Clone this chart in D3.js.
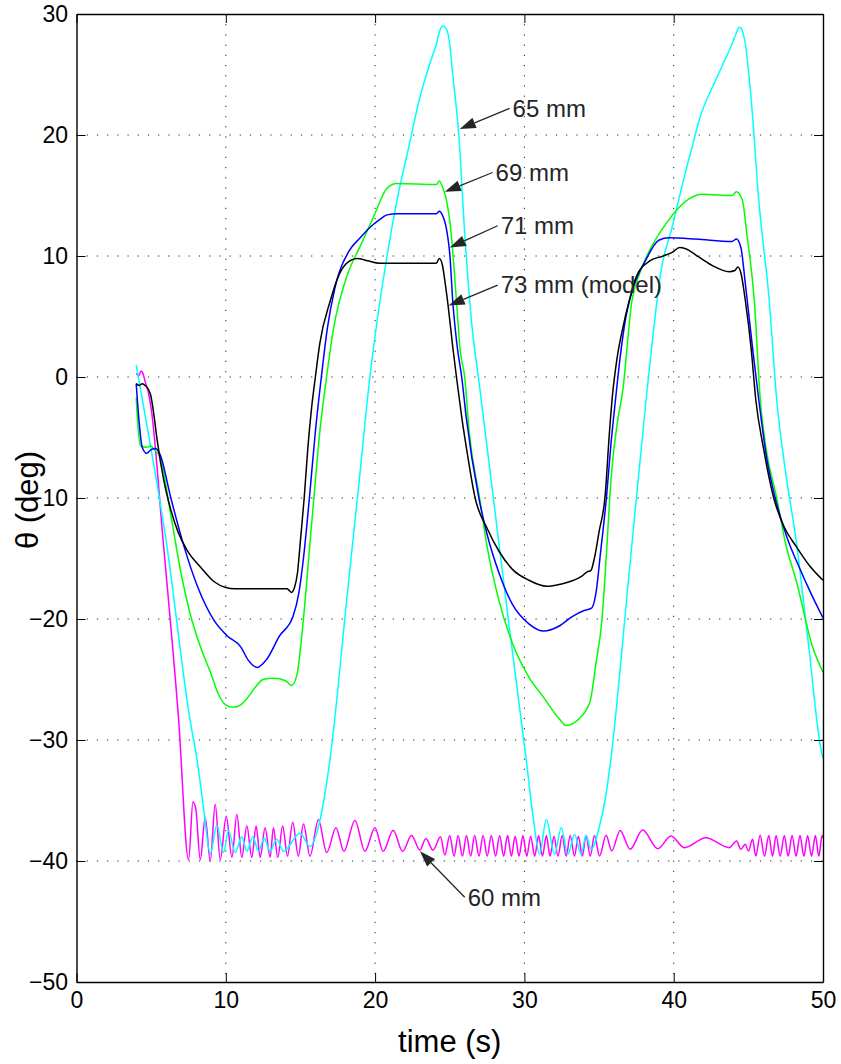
<!DOCTYPE html>
<html>
<head>
<meta charset="utf-8">
<script src="https://cdn.jsdelivr.net/npm/d3@7"></script>
<style>
  body { margin: 0; background: #fff; }
  text { font-family: "Liberation Sans", Arial, Helvetica, sans-serif; }
</style>
</head>
<body>
<svg id="chart"></svg>
<script>
const width = 841, height = 1064;
const marginLeft = 76.5, marginRight = 18, marginTop = 14, marginBottom = 82;

const xTicks = [0, 10, 20, 30, 40, 50];
const yTicks = [-50, -40, -30, -20, -10, 0, 10, 20, 30];

// [time (s), theta (deg)]
const model73 = [[4.0,-0.55],[4.2,-0.7],[4.4,-0.55],[4.6,-0.7],[4.95,-1.4],[5.17,-3.0],[5.4,-5.2],[5.84,-8.5],[6.3,-10.9],[6.8,-12.8],[7.4,-14.3],[8.3,-15.7],[9.2,-16.9],[10.0,-17.4],[10.6,-17.5],[14.1,-17.5],[14.4,-17.8],[14.6,-17.4],[14.8,-16.2],[15.0,-13.5],[15.25,-10.0],[15.5,-5.8],[15.75,-2.5],[16.0,0.0],[16.3,2.8],[17.0,6.3],[17.6,8.5],[18.3,9.6],[18.8,9.8],[19.5,9.6],[20.3,9.4],[24.1,9.4],[24.3,9.8],[24.5,9.3],[24.7,7.7],[24.9,5.8],[25.2,2.5],[25.45,0.0],[25.8,-3.3],[26.2,-6.5],[26.7,-10.0],[27.5,-12.5],[28.3,-14.4],[29.2,-15.9],[30.3,-16.8],[31.5,-17.3],[32.5,-17.1],[33.3,-16.8],[33.8,-16.5],[34.2,-16.1],[34.45,-16.0],[34.7,-14.9],[35.0,-12.8],[35.4,-9.9],[35.7,-4.5],[35.9,-1.5],[36.2,1.5],[36.6,4.1],[37.0,6.2],[37.5,8.3],[38.4,9.6],[39.3,10.0],[39.9,10.3],[40.4,10.7],[40.8,10.6],[41.7,9.9],[42.6,9.2],[43.7,8.7],[44.1,8.8],[44.3,9.1],[44.5,8.6],[44.8,6.3],[45.2,2.2],[45.5,-1.9],[46.0,-5.8],[46.7,-10.0],[47.4,-12.4],[48.2,-14.0],[49.1,-15.6],[50.0,-16.8]];

const mm71 = [[4.0,-0.55],[4.2,-3.8],[4.4,-5.8],[4.7,-6.3],[5.0,-6.0],[5.3,-5.9],[5.6,-6.4],[6.3,-9.9],[7.2,-14.0],[8.1,-17.3],[9.2,-20.1],[10.1,-21.4],[11.0,-22.3],[11.5,-23.4],[12.1,-24.0],[12.7,-23.4],[13.6,-21.4],[14.5,-19.8],[14.9,-17.8],[15.2,-15.0],[15.6,-10.0],[16.0,-4.5],[16.4,0.0],[16.8,4.0],[17.3,7.3],[18.3,10.5],[19.0,11.5],[19.6,12.3],[20.3,13.0],[20.8,13.4],[21.5,13.5],[24.1,13.5],[24.3,13.7],[24.5,13.4],[24.8,12.1],[25.0,10.2],[25.2,6.3],[25.5,2.5],[25.8,0.0],[26.1,-3.3],[26.95,-10.0],[27.5,-13.0],[28.3,-16.2],[29.2,-18.8],[30.3,-20.4],[31.3,-21.0],[32.3,-20.6],[33.2,-19.8],[34.0,-19.3],[34.5,-19.1],[34.8,-17.8],[35.1,-14.5],[35.5,-9.9],[35.8,-5.5],[36.1,-1.9],[36.4,1.5],[36.8,5.0],[37.4,7.8],[38.1,9.6],[39.0,11.3],[39.7,11.5],[41.5,11.4],[43.9,11.2],[44.2,11.4],[44.5,10.7],[44.8,7.7],[45.3,2.2],[45.7,-1.9],[46.2,-6.5],[46.8,-10.0],[47.6,-13.3],[48.4,-15.7],[49.2,-17.9],[50.0,-19.9]];

const mm69 = [[4.0,-1.7],[4.1,-3.8],[4.3,-5.7],[4.7,-5.8],[5.0,-5.7],[5.2,-6.0],[5.6,-6.6],[6.3,-11.3],[7.0,-16.2],[7.6,-19.5],[8.3,-22.3],[9.0,-24.5],[9.5,-26.2],[10.0,-27.1],[10.5,-27.3],[11.0,-27.1],[11.4,-26.6],[12.0,-25.6],[12.5,-25.0],[13.2,-24.9],[14.0,-25.1],[14.4,-25.5],[14.75,-24.7],[15.2,-20.0],[15.55,-15.0],[15.9,-10.0],[16.3,-4.5],[16.75,0.0],[17.2,3.9],[18.1,8.3],[19.0,10.8],[19.9,13.25],[20.8,15.6],[21.45,16.0],[24.1,15.9],[24.3,16.2],[24.6,15.4],[24.8,14.5],[25.1,11.8],[25.45,6.3],[25.7,2.2],[26.0,0.0],[26.3,-4.5],[27.0,-10.0],[27.5,-14.0],[28.3,-18.5],[29.2,-22.0],[30.3,-24.8],[31.3,-26.5],[32.3,-28.2],[32.8,-28.8],[33.3,-28.6],[33.7,-28.2],[34.4,-26.8],[34.8,-23.6],[35.2,-20.0],[35.5,-14.5],[35.8,-8.5],[36.2,-4.0],[36.6,-1.0],[37.2,6.3],[37.7,8.5],[38.4,10.5],[39.5,12.7],[41.0,14.7],[41.9,15.1],[43.9,15.0],[44.2,15.3],[44.6,14.6],[44.9,11.8],[45.4,6.3],[45.8,-1.9],[46.2,-6.0],[46.9,-10.0],[47.5,-13.8],[48.2,-16.8],[49.3,-22.3],[50.0,-24.4]];

const mm65 = [[4.0,1.0],[4.1,0.3],[4.5,-2.5],[5.2,-7.4],[6.0,-13.5],[7.6,-28.3],[8.07,-31.6],[8.5,-35.5],[8.96,-39.4],[9.4,-37.05],[9.85,-39.3],[10.18,-37.5],[10.63,-39.3],[11.07,-38.0],[11.41,-39.2],[11.81,-38.0],[12.19,-39.2],[12.57,-38.1],[12.97,-39.2],[13.41,-38.2],[13.86,-39.2],[14.97,-37.7],[15.64,-38.8],[16.31,-36.6],[16.98,-31.6],[18.1,-18.4],[18.9,-9.0],[19.65,0.0],[20.8,10.0],[21.5,14.8],[22.2,18.7],[23.0,23.1],[23.8,26.4],[24.1,27.5],[24.3,28.5],[24.55,29.0],[24.8,28.7],[25.0,27.5],[25.2,25.0],[25.6,20.1],[26.0,11.9],[26.45,4.7],[27.0,-0.8],[28.0,-10.8],[29.0,-20.8],[30.12,-31.6],[30.6,-36.5],[31.02,-39.45],[31.47,-36.56],[32.02,-39.45],[32.47,-37.25],[32.91,-39.45],[33.36,-37.8],[33.8,-39.45],[34.13,-37.88],[34.47,-39.03],[35.03,-37.11],[35.4,-35.0],[35.75,-32.0],[36.97,-16.8],[38.15,-1.9],[39.2,9.1],[39.9,12.4],[40.6,16.0],[41.4,19.8],[41.7,21.2],[42.8,24.5],[43.5,26.4],[43.9,27.5],[44.15,28.3],[44.4,28.9],[44.6,28.6],[44.8,27.5],[45.2,22.8],[45.7,14.6],[46.4,6.3],[46.9,-1.9],[47.5,-7.9],[48.2,-13.5],[49.0,-21.8],[49.9,-31.0],[50.0,-31.5]];

const mm60 = [[4.0,0.3],[4.17,0.1],[4.32,0.5],[4.45,0.3],[4.6,-0.4],[4.8,-1.2],[5.0,-2.6],[5.8,-13.5],[6.84,-28.3],[7.51,-39.9],[7.8,-35.1],[7.99,-35.7],[8.29,-39.9],[8.62,-36.4],[8.96,-40.0],[9.29,-35.3],[9.63,-39.9],[10.03,-36.3],[10.41,-39.7],[10.74,-36.15],[11.07,-39.7],[11.41,-37.1],[11.74,-39.7],[12.03,-37.1],[12.3,-39.7],[12.63,-37.25],[12.97,-39.7],[13.19,-37.25],[13.48,-39.7],[13.81,-37.1],[14.13,-39.6],[14.48,-36.8],[14.86,-39.6],[15.2,-36.95],[15.64,-39.6],[16.2,-36.6],[16.76,-39.3],[17.38,-37.25],[17.91,-39.2],[18.65,-36.65],[19.32,-39.2],[19.99,-37.25],[20.54,-39.2],[21.21,-37.45],[21.84,-39.2],[22.44,-37.9],[23.0,-39.1],[23.4,-38.15],[23.88,-39.1],[24.38,-38.0],[24.67,-39.5],[25.0,-37.9],[25.29,-39.6],[25.56,-37.9],[25.85,-39.6],[26.12,-37.9],[26.4,-39.6],[26.67,-37.9],[26.96,-39.6],[27.23,-37.9],[27.51,-39.6],[27.78,-37.9],[28.07,-39.6],[28.34,-37.9],[28.61,-39.6],[28.87,-37.9],[29.13,-39.6],[29.38,-37.95],[29.64,-39.6],[29.9,-37.9],[30.16,-39.6],[30.42,-37.95],[30.69,-39.6],[30.95,-37.9],[31.21,-39.6],[31.47,-37.9],[31.72,-39.6],[31.98,-37.95],[32.25,-39.6],[32.53,-37.9],[32.8,-39.6],[33.07,-37.9],[33.35,-39.6],[33.62,-37.95],[33.88,-39.6],[34.13,-37.9],[34.41,-39.6],[34.69,-37.9],[35.03,-39.58],[35.47,-37.88],[35.85,-39.17],[36.41,-37.47],[37.08,-39.03],[37.92,-37.44],[38.93,-38.98],[39.82,-37.93],[40.71,-38.9],[42.16,-38.07],[43.72,-38.9],[44.21,-38.35],[44.5,-39.03],[44.79,-38.62],[45.01,-39.17],[45.28,-38.21],[45.5,-39.58],[45.79,-37.88],[46.08,-39.6],[46.37,-37.9],[46.62,-39.6],[46.86,-37.9],[47.13,-39.6],[47.41,-37.9],[47.67,-39.6],[47.93,-37.9],[48.2,-39.6],[48.46,-37.9],[48.72,-39.6],[48.97,-37.9],[49.23,-39.6],[49.49,-37.9],[49.72,-39.6],[49.94,-37.9],[50.0,-38.1]];

const seriesData = [mm65, mm69, mm71, model73, mm60];
const seriesColors = ["#00ffff", "#00ff00", "#0000ff", "#000000", "#ff00ff"];
const drawOrder = [4, 0, 1, 2, 3];

// annotations: label, arrow tip [t, theta], arrow tail [t, theta]
const annoLabels = ["65 mm", "69 mm", "71 mm", "73 mm (model)", "60 mm"];
const annoTips = [[25.67, 20.5], [24.67, 15.3], [25.0, 10.7], [24.93, 5.9], [23.0, -39.2]];
const annoTails = [[29.01, 22.2], [27.87, 16.9], [28.21, 12.5], [28.21, 7.6], [26.0, -43.0]];

const svg = d3.select("#chart")
  .attr("width", width)
  .attr("height", height)
  .attr("viewBox", [0, 0, width, height]);

const x = d3.scaleLinear().domain([0, 50]).range([marginLeft, width - marginRight]);
const y = d3.scaleLinear().domain([-50, 30]).range([height - marginBottom, marginTop]);

// grid
const grid = svg.append("g")
  .attr("stroke", "#222")
  .attr("stroke-width", 1)
  .attr("stroke-dasharray", "1.2,9");
grid.selectAll(".gx").data(xTicks.slice(1, -1)).join("line")
  .attr("x1", d => x(d)).attr("x2", d => x(d))
  .attr("y1", y(30)).attr("y2", y(-50));
grid.selectAll(".gy").data(yTicks.slice(1, -1)).join("line")
  .attr("x1", x(0)).attr("x2", x(50))
  .attr("y1", d => y(d)).attr("y2", d => y(d));

// curves
const line = d3.line()
  .x(d => x(d[0]))
  .y(d => y(d[1]))
  .curve(d3.curveMonotoneX);

svg.append("g")
  .selectAll("path")
  .data(drawOrder)
  .join("path")
  .attr("fill", "none")
  .attr("stroke", i => seriesColors[i])
  .attr("stroke-width", 1.5)
  .attr("stroke-linejoin", "round")
  .attr("d", i => line(seriesData[i]));

// axes (ticks pointing inward, box all round)
const tickLen = 9;
svg.append("g")
  .attr("transform", `translate(0,${y(-50)})`)
  .call(d3.axisBottom(x).tickValues(xTicks).tickSize(-tickLen).tickSizeOuter(0).tickPadding(10))
  .call(g => g.selectAll("text").attr("font-size", 23).attr("fill", "#000"));
svg.append("g")
  .attr("transform", `translate(${x(0)},0)`)
  .call(d3.axisLeft(y).tickValues(yTicks).tickSize(-tickLen).tickSizeOuter(0).tickPadding(8.5))
  .call(g => g.selectAll("text").attr("font-size", 23).attr("fill", "#000"));
svg.append("g")
  .attr("transform", `translate(0,${y(30)})`)
  .call(d3.axisTop(x).tickValues(xTicks).tickSize(-tickLen).tickSizeOuter(0).tickFormat(""));
svg.append("g")
  .attr("transform", `translate(${x(50)},0)`)
  .call(d3.axisRight(y).tickValues(yTicks).tickSize(-tickLen).tickSizeOuter(0).tickFormat(""));
svg.selectAll(".domain").attr("stroke", "#000").attr("stroke-width", 1.4);
svg.selectAll(".tick line").attr("stroke", "#000").attr("stroke-width", 1);

// annotations
const anno = svg.append("g");
annoLabels.forEach((label, i) => {
  const tx = x(annoTips[i][0]), ty = y(annoTips[i][1]);
  const sx = x(annoTails[i][0]), sy = y(annoTails[i][1]);
  const ang = Math.atan2(sy - ty, sx - tx);
  const headLen = 16, headW = 5.5;
  const bx = tx + headLen * Math.cos(ang), by = ty + headLen * Math.sin(ang);
  anno.append("line")
    .attr("x1", sx).attr("y1", sy).attr("x2", bx).attr("y2", by)
    .attr("stroke", "#262626").attr("stroke-width", 1.3);
  anno.append("path")
    .attr("d", `M${tx},${ty}L${bx - headW * Math.sin(ang)},${by + headW * Math.cos(ang)}L${bx + headW * Math.sin(ang)},${by - headW * Math.cos(ang)}Z`)
    .attr("fill", "#262626");
  anno.append("text")
    .attr("x", sx + 3).attr("y", sy).attr("dy", "0.35em")
    .attr("font-size", 24).attr("fill", "#262626")
    .text(label);
});

// axis labels
svg.append("text")
  .attr("x", (x(0) + x(50)) / 2).attr("y", 1052)
  .attr("text-anchor", "middle").attr("font-size", 31).attr("fill", "#000")
  .text("time (s)");
svg.append("text")
  .attr("transform", `translate(38,${(y(30) + y(-50)) / 2 + 2}) rotate(-90)`)
  .attr("text-anchor", "middle").attr("font-size", 31).attr("fill", "#000")
  .text("θ (deg)");
</script>
</body>
</html>
